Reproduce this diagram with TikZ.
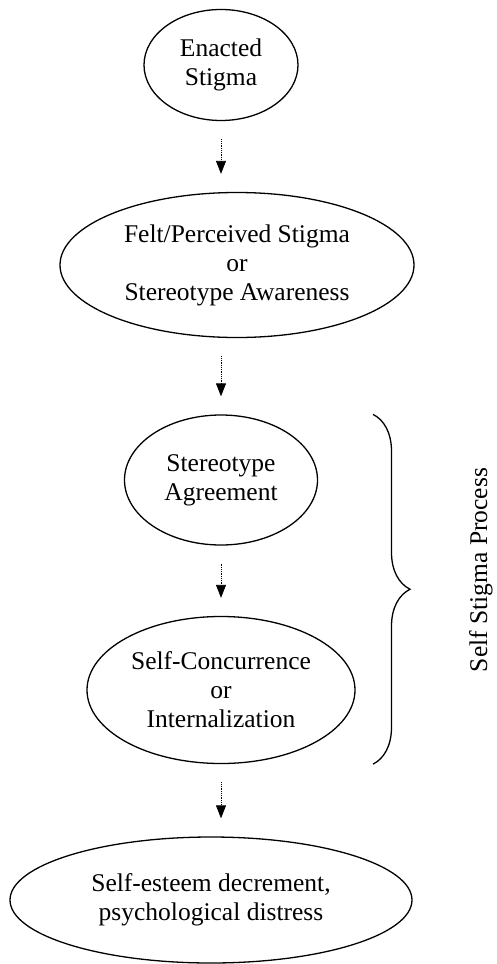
\documentclass[tikz,border=0pt]{standalone}
\usepackage{fontspec}
\setmainfont{Liberation Serif}
\usetikzlibrary{shapes.geometric,arrows.meta,decorations.pathreplacing}

\begin{document}
\begin{tikzpicture}[x=1pt,y=-1pt,
  stage/.style={draw,ellipse,line width=1.3pt,inner sep=0pt,align=center,
    font=\fontsize{25.5}{29}\selectfont},
  flow/.style={densely dotted,line width=0.8pt,-{Triangle[length=13pt,width=10pt]},
    shorten <=18pt,shorten >=18pt},
  procbrace/.style={decorate,decoration={brace,amplitude=37pt},line width=1.3pt}]
  \useasboundingbox (0,0) rectangle (497,964);
  % stages of the process
  \node[stage,minimum width=154pt,minimum height=111pt] (enacted) at (221,65) {Enacted\\Stigma};
  \node[stage,minimum width=354pt,minimum height=145pt] (felt) at (237,265)
    {Felt/Perceived Stigma\\or\\Stereotype Awareness};
  \node[stage,minimum width=193pt,minimum height=130pt] (agree) at (221,480) {Stereotype\\Agreement};
  \node[stage,minimum width=268pt,minimum height=147pt] (concur) at (221,690)
    {Self-Concurrence\\or\\Internalization};
  \node[stage,minimum width=402pt,minimum height=126pt] (esteem) at (211,900)
    {Self-esteem decrement,\\psychological distress};
  % dotted arrows
  \draw[flow] (enacted.south) -- (enacted.south |- felt.north);
  \draw[flow] (agree.north |- felt.south) -- (agree.north);
  \draw[flow] (agree.south) -- (concur.north);
  \draw[flow] (concur.south) -- (concur.south |- esteem.north);
  % brace and its label
  \coordinate (bx) at (373,0);
  \draw[procbrace] (agree.north -| bx) -- (concur.south -| bx);
  \node[rotate=90,font=\fontsize{25.5}{29}\selectfont] (proc) at (481,570) {Self Stigma Process};
\end{tikzpicture}
\end{document}
